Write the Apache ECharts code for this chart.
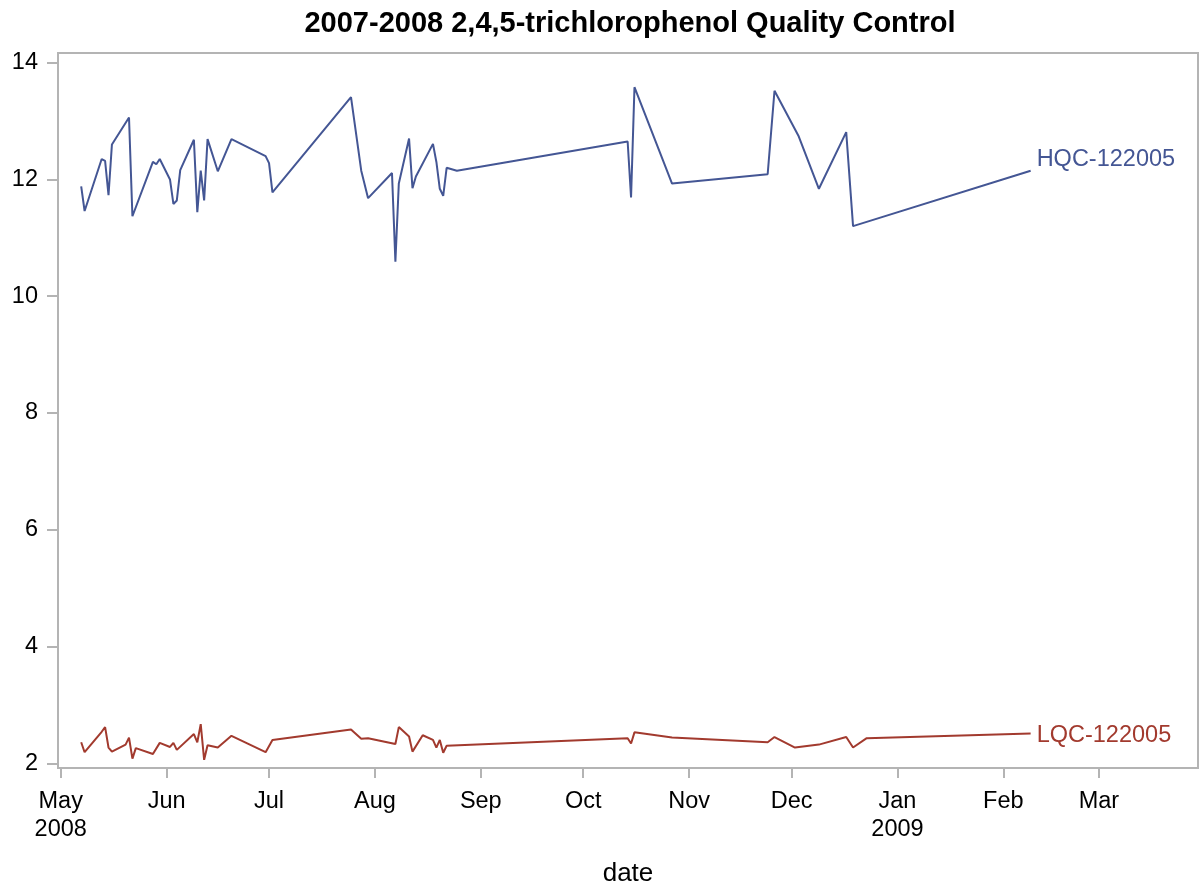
<!DOCTYPE html>
<html><head><meta charset="utf-8">
<script src="https://cdn.jsdelivr.net/npm/echarts@6.0.0/dist/echarts.min.js"></script>
<style>html,body{margin:0;padding:0;background:#fff}#c{width:1199px;height:883px}</style>
</head><body><div id="c"></div>
<script>
const titleText = '2007-2008 2,4,5-trichlorophenol Quality Control';
const seriesNames = ['HQC-122005', 'LQC-122005'];

const hqcDates = ['2008-05-07','2008-05-08','2008-05-13','2008-05-14','2008-05-15','2008-05-16','2008-05-21','2008-05-22','2008-05-28','2008-05-29','2008-05-30',
  '2008-06-02','2008-06-03','2008-06-04','2008-06-05','2008-06-09','2008-06-10','2008-06-11','2008-06-12','2008-06-13','2008-06-16','2008-06-20','2008-06-30',
  '2008-07-01','2008-07-02','2008-07-25','2008-07-28','2008-07-30',
  '2008-08-06','2008-08-07','2008-08-08','2008-08-11','2008-08-12','2008-08-13','2008-08-18','2008-08-19','2008-08-20','2008-08-21','2008-08-22','2008-08-25',
  '2008-10-14','2008-10-15','2008-10-16','2008-10-27',
  '2008-11-24','2008-11-26',
  '2008-12-03','2008-12-09','2008-12-17','2008-12-19',
  '2009-02-09'];
const hqcValues = [11.88,11.46,12.35,12.32,11.73,12.60,13.06,11.37,12.30,12.26,12.35,
  12.00,11.58,11.64,12.16,12.68,11.44,12.15,11.64,12.69,12.14,12.69,12.40,
  12.28,11.78,13.41,12.15,11.68,
  12.11,10.59,11.93,12.70,11.85,12.05,12.61,12.30,11.84,11.72,12.20,12.15,
  12.65,11.69,13.58,11.93,
  12.09,13.52,
  12.75,11.84,12.81,11.20,
  12.15];

const lqcDates = ['2008-05-07','2008-05-08','2008-05-13','2008-05-14','2008-05-15','2008-05-16','2008-05-20','2008-05-21','2008-05-22','2008-05-23','2008-05-28','2008-05-30',
  '2008-06-02','2008-06-03','2008-06-04','2008-06-09','2008-06-10','2008-06-11','2008-06-12','2008-06-13','2008-06-16','2008-06-20','2008-06-30',
  '2008-07-02','2008-07-25','2008-07-28','2008-07-30',
  '2008-08-07','2008-08-08','2008-08-11','2008-08-12','2008-08-15','2008-08-18','2008-08-19','2008-08-20','2008-08-21','2008-08-22',
  '2008-10-14','2008-10-15','2008-10-16','2008-10-27',
  '2008-11-24','2008-11-26',
  '2008-12-02','2008-12-09','2008-12-17','2008-12-19','2008-12-23',
  '2009-02-09'];
const lqcValues = [2.36,2.19,2.54,2.62,2.27,2.20,2.32,2.44,2.08,2.26,2.16,2.35,
  2.28,2.35,2.23,2.50,2.36,2.67,2.06,2.31,2.27,2.47,2.19,
  2.40,2.58,2.42,2.43,
  2.33,2.62,2.46,2.20,2.48,2.40,2.27,2.40,2.18,2.30,
  2.43,2.34,2.53,2.44,
  2.36,2.45,
  2.27,2.32,2.45,2.27,2.43,
  2.51];

const xTickDates = ['2008-05-01','2008-06-01','2008-07-01','2008-08-01','2008-09-01','2008-10-01','2008-11-01','2008-12-01','2009-01-01','2009-02-01','2009-03-01'];
const xTickLabels = ['May\n2008','Jun','Jul','Aug','Sep','Oct','Nov','Dec','Jan\n2009','Feb','Mar'];
const yTicks = [2, 4, 6, 8, 10, 12, 14];

function ts(s) { const p = s.split('-').map(Number); return Date.UTC(p[0], p[1] - 1, p[2]); }
const DAY = 86400000;
const xTickTs = xTickDates.map(ts);
const labelMap = {};
xTickTs.forEach((t, i) => { labelMap[t] = xTickLabels[i]; });

const FONT = '"Liberation Sans", Arial, Helvetica, sans-serif';
const AXIS = '#b4b4b4';
const BLUE = '#445694';
const RED = '#A23A2E';

const chart = echarts.init(document.getElementById('c'), null, { renderer: 'canvas' });
chart.setOption({
  animation: false,
  backgroundColor: '#fff',
  title: {
    text: titleText, left: 625, textAlign: 'center', top: 4,
    textStyle: { fontFamily: FONT, fontSize: 29, fontWeight: 'bold', color: '#000' }
  },
  grid: { left: 58, right: 1, top: 53, bottom: 115, show: true, borderColor: AXIS, borderWidth: 2,
    containLabel: false, outerBoundsMode: 'none' },
  xAxis: {
    type: 'value',
    min: ts('2008-05-01') - 0.79 * DAY,
    max: ts('2009-03-30'),
    name: 'date', nameLocation: 'middle', nameGap: 93,
    nameTextStyle: { fontFamily: FONT, fontSize: 26, color: '#000' },
    axisLine: { lineStyle: { color: AXIS, width: 2 } },
    axisTick: { show: true, customValues: xTickTs, length: 10, lineStyle: { color: AXIS, width: 2 } },
    axisLabel: {
      customValues: xTickTs, formatter: (v) => labelMap[v] || '',
      fontFamily: FONT, fontSize: 23.5, color: '#000', lineHeight: 28, margin: 20, hideOverlap: false
    },
    splitLine: { show: false }
  },
  yAxis: {
    type: 'value', min: 1.9195, max: 14.166,
    axisLine: { show: true, lineStyle: { color: AXIS, width: 2 } },
    axisTick: { show: true, customValues: yTicks, length: 11, lineStyle: { color: AXIS, width: 2 } },
    axisLabel: { customValues: yTicks, fontFamily: FONT, fontSize: 23.5, color: '#000', margin: 20, padding: [3, 0, 0, 0] },
    splitLine: { show: false }
  },
  series: [
    {
      name: seriesNames[0], type: 'line', showSymbol: false, symbol: 'none',
      data: hqcDates.map((d, i) => [ts(d), hqcValues[i]]),
      lineStyle: { color: BLUE, width: 2 }, itemStyle: { color: BLUE },
      endLabel: { show: true, formatter: '{a}', color: BLUE, fontFamily: FONT, fontSize: 23.5, distance: 6, offset: [0, -11.5] }
    },
    {
      name: seriesNames[1], type: 'line', showSymbol: false, symbol: 'none',
      data: lqcDates.map((d, i) => [ts(d), lqcValues[i]]),
      lineStyle: { color: RED, width: 2 }, itemStyle: { color: RED },
      endLabel: { show: true, formatter: '{a}', color: RED, fontFamily: FONT, fontSize: 23.5, distance: 6, offset: [0, 1.5] }
    }
  ]
});
</script>
</body></html>
